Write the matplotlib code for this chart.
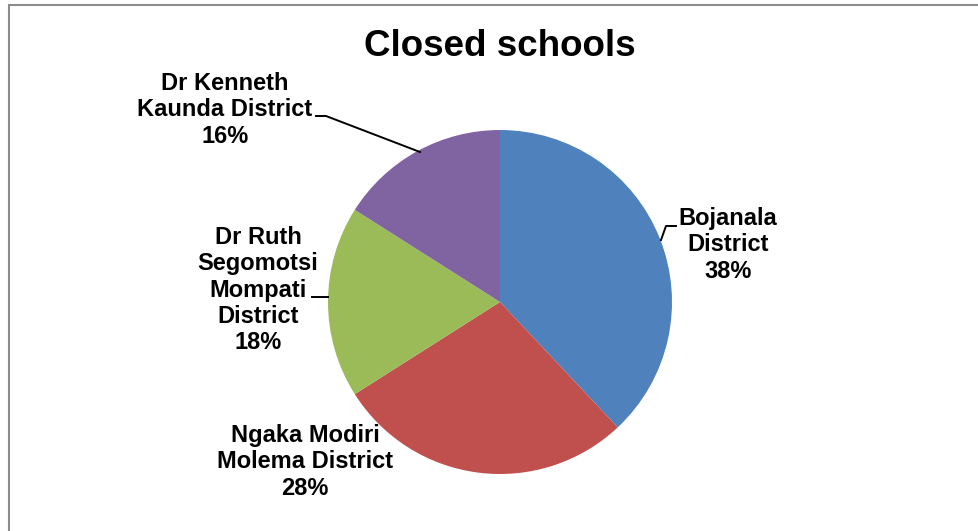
import matplotlib
matplotlib.use("Agg")
import matplotlib.pyplot as plt
from matplotlib.patches import Rectangle
from matplotlib.lines import Line2D

# data
districts = ["Bojanala\nDistrict", "Ngaka Modiri\nMolema District",
             "Dr Ruth\nSegomotsi\nMompati\nDistrict", "Dr Kenneth\nKaunda District"]
shares = [38, 28, 18, 16]
colors = ["#4F81BD", "#C0504D", "#9BBB59", "#8064A2"]

plt.rcParams['font.family'] = ['Liberation Sans', 'DejaVu Sans']

W, H = 979, 531
fig = plt.figure(figsize=(W / 100, H / 100), dpi=100)

def px(x, y):
    # pixel coords (from top-left) -> figure fraction
    return x / W, 1 - y / H

# outer chart border
fig.add_artist(Rectangle(px(9, 600), (W + 50) / W, 595 / H, transform=fig.transFigure,
                         fill=False, edgecolor="#8c8c8c", linewidth=1.5))

cx, cy, r = 500, 302, 172
ax = fig.add_axes([(cx - r) / W, (H - cy - r) / H, 2 * r / W, 2 * r / H])
ax.pie(shares, colors=colors, startangle=90, counterclock=False, radius=1,
       wedgeprops=dict(linewidth=0))
ax.set_xlim(-1, 1)
ax.set_ylim(-1, 1)
ax.set_aspect("equal")
ax.axis("off")

fig.text(*px(500, 47), "Closed schools", ha="center", va="center",
         fontsize=26.5, fontweight="bold")

# label positions (pixel centers)
label_pos = [(728, 245), (305, 462), (258, 290), (225, 110)]
for name, val, (lx, ly) in zip(districts, shares, label_pos):
    fig.text(*px(lx, ly), f"{name}\n{val}%", ha="center", va="center",
             fontsize=17, fontweight="bold", linespacing=1.17)

# leader lines
leaders = [
    [(676, 226), (666, 226), (661, 240)],
    [(312, 297), (328, 297)],
    [(316, 116), (326, 116), (420, 152)],
]
for pts in leaders:
    xs = [px(*p)[0] for p in pts]
    ys = [px(*p)[1] for p in pts]
    fig.add_artist(Line2D(xs, ys, transform=fig.transFigure, color="black", linewidth=1.4))

fig.savefig("out.png", dpi=100)
